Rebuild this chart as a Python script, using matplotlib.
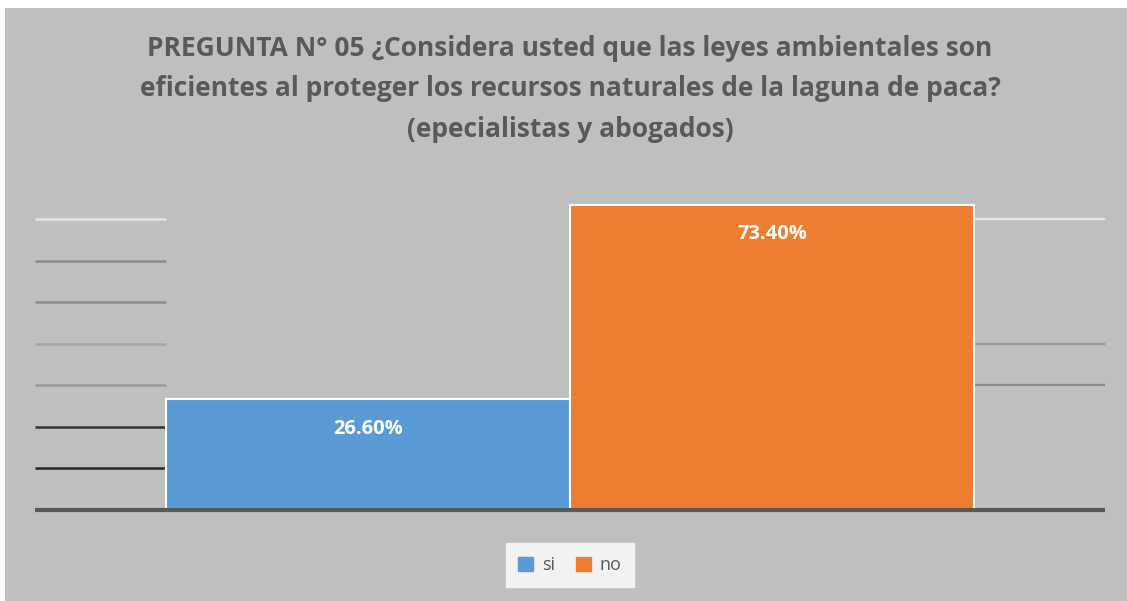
import matplotlib.pyplot as plt
from matplotlib.patches import Rectangle
import numpy as np

# data
series = ["si", "no"]
values = [26.6, 73.4]
colors = ["#5b9bd5", "#ed7d31"]
grid_levels = [10, 20, 30, 40, 50, 60, 70]
# gridline colours, left of the bars / right of the bars (None = not visible)
grid_left = ["#262626", "#333333", "#9a9a9a", "#a6a6a6", "#8c8c8c", "#8c8c8c", "#e6e6e6"]
grid_right = [None, None, "#8c8c8c", "#9a9a9a", None, None, "#e6e6e6"]
title = ("PREGUNTA N° 05 ¿Considera usted que las leyes ambientales son\n"
         "eficientes al proteger los recursos naturales de la laguna de paca?\n"
         "(epecialistas y abogados)")

W, H = 1127, 601
fig = plt.figure(figsize=(W / 100, H / 100), dpi=100)
fig.patch.set_facecolor("white")
fig.add_artist(Rectangle((5 / W, 0), 1, 1 - 8 / H, transform=fig.transFigure,
                         facecolor="#bfbfbf", edgecolor="none", zorder=0))

ax = fig.add_axes([35 / W, 1 - 510 / H, 1070 / W, 332.4 / H])
ax.set_facecolor("none")
ax.set_xlim(-0.5, 0.5)
ax.set_ylim(0, 80)

bar_w = 404 / 1070
x = np.array([-bar_w / 2, bar_w / 2])

# gridlines left and right of the bar block
x_left_end = x[0] - bar_w / 2
x_right_start = x[1] + bar_w / 2
for lvl, cl, cr in zip(grid_levels, grid_left, grid_right):
    ax.plot([-0.5, x_left_end], [lvl, lvl], color=cl, lw=1.8, zorder=1,
            solid_capstyle="butt")
    if cr:
        ax.plot([x_right_start, 0.5], [lvl, lvl], color=cr, lw=1.6, zorder=1,
                solid_capstyle="butt")

bars = ax.bar(x, values, width=bar_w, color=colors, edgecolor="white",
              linewidth=1.5, zorder=2)
ax.plot([-0.5, 0.5], [0, 0], color="#595959", lw=3, zorder=3, clip_on=False,
        solid_capstyle="butt")

for xi, v in zip(x, values):
    ax.text(xi, v - 7, f"{v:.2f}%", ha="center", va="center", color="white",
            fontsize=14.5, fontweight="bold", family="Open Sans", zorder=4)

for s in ax.spines.values():
    s.set_visible(False)
ax.set_xticks([])
ax.set_yticks([])

fig.text(570 / W, 1 - 89 / H, title, ha="center", va="center", color="#595959",
         fontsize=19, fontweight="bold", family="Open Sans", linespacing=1.62)

handles = [Rectangle((0, 0), 1, 1, color=c) for c in colors]
leg = fig.legend(handles, series, loc="center", bbox_to_anchor=(570 / W, 1 - 565 / H),
                 ncol=2, frameon=True, fancybox=False, handlelength=0.8,
                 handleheight=0.8, handletextpad=0.5, columnspacing=1.2,
                 prop={"family": "Open Sans", "size": 13}, borderpad=0.7)
leg.get_frame().set_facecolor("#f2f2f2")
leg.get_frame().set_edgecolor("#f2f2f2")
leg.get_frame().set_alpha(1)
for t in leg.get_texts():
    t.set_color("#595959")

fig.savefig("out.png", dpi=100, facecolor=fig.get_facecolor())
